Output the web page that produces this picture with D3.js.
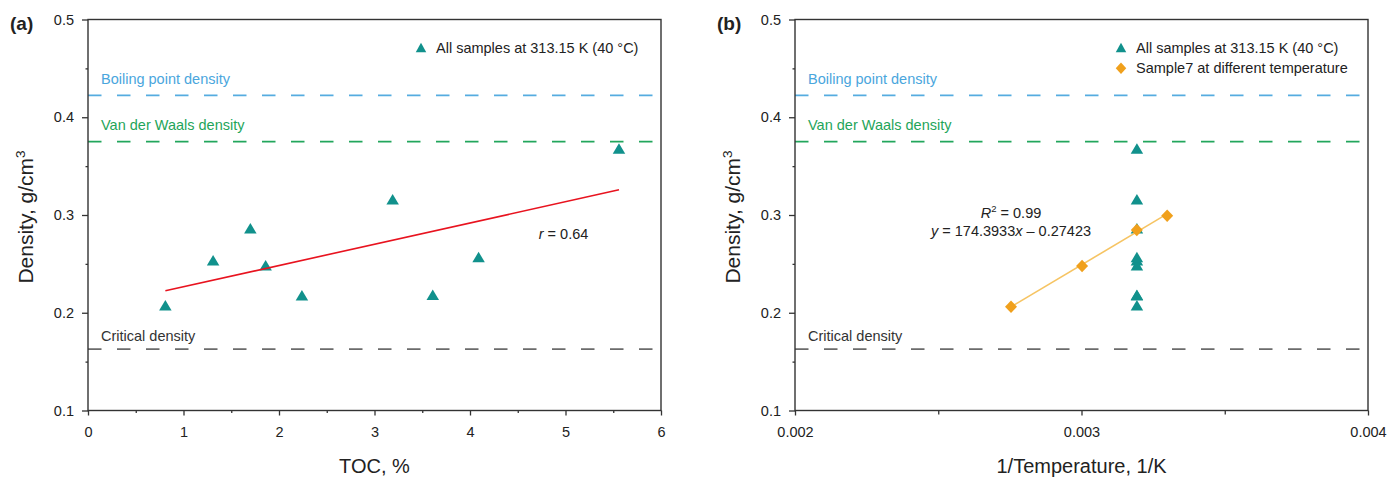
<!DOCTYPE html>
<html>
<head>
<meta charset="utf-8">
<script src="https://cdn.jsdelivr.net/npm/d3@7"></script>
<style>
body { margin: 0; background: #fff; }
svg text { font-family: "Liberation Sans", Arial, Helvetica, sans-serif; }
</style>
</head>
<body>
<svg id="chart" width="1387" height="478"></svg>
<script>
// ---- data ----
var tocPercent   = [0.81, 1.31, 1.70, 1.86, 2.24, 3.19, 3.61, 4.09, 5.56];
var densityAll   = [0.2076, 0.2537, 0.2864, 0.2485, 0.2178, 0.316, 0.2185, 0.257, 0.368];
var invTempAll   = [0.0031934, 0.0031934, 0.0031934, 0.0031934, 0.0031934, 0.0031934, 0.0031934, 0.0031934, 0.0031934]; // 313.15 K
var invTempS7    = [0.002754, 0.003002, 0.003193, 0.003299];
var densityS7    = [0.2062, 0.2478, 0.2847, 0.2993];

var refNames  = ["Boiling point density", "Van der Waals density", "Critical density"];
var refValues = [0.4224, 0.3750, 0.1627];

var fitSlopeS7 = 174.3933, fitInterceptS7 = -0.27423;
var rText = "0.64", r2Text = "0.99";

var yTicks      = [0.1, 0.2, 0.3, 0.4, 0.5];
var yMinorTicks = [0.15, 0.25, 0.35, 0.45];
var xTicksA      = [0, 1, 2, 3, 4, 5, 6];
var xMinorTicksA = [0.5, 1.5, 2.5, 3.5, 4.5, 5.5];
var xTicksB      = [0.002, 0.003, 0.004];
var xMinorTicksB = [0.0025, 0.0035];

var legendNames = ["All samples at 313.15 K (40 \u00B0C)", "Sample7 at different temperature"];

// ---- styles ----
var teal = "#11918c", orange = "#f0a01c", orangeLine = "#f6c463", red = "#e8131f";
var refColors = ["#55ace0", "#22a65c", "#6b6b6b"];
var refLabelColors = ["#4aa6dd", "#1fa55a", "#333"];
var refLabelDy = [-11.7, -11.8, -8.5];
var axisColor = "#333", textColor = "#222";

var svg = d3.select("#chart");

function triPath(w, h) {
    return "M0," + (-h / 2) + "L" + (w / 2) + "," + (h / 2) + "L" + (-w / 2) + "," + (h / 2) + "Z";
}
function diaPath(w, h) {
    return "M0," + (-h / 2) + "L" + (w / 2) + ",0L0," + (h / 2) + "L" + (-w / 2) + ",0Z";
}

function linFit(xs, ys) {
    var mx = d3.mean(xs), my = d3.mean(ys), sxy = 0, sxx = 0;
    xs.forEach(function(v, i) { sxy += (v - mx) * (ys[i] - my); sxx += (v - mx) * (v - mx); });
    var b = sxy / sxx;
    return {slope: b, intercept: my - b * mx};
}

function drawPanel(p) {
    var x = d3.scaleLinear().domain(p.xDomain).range([p.left, p.right]);
    var y = d3.scaleLinear().domain([0.1, 0.5]).range([p.bottom, p.top]);
    var g = svg.append("g");

    // reference lines
    refValues.forEach(function(v, i) {
        g.append("line")
            .attr("x1", p.left).attr("x2", p.right)
            .attr("y1", y(v)).attr("y2", y(v))
            .attr("stroke", refColors[i]).attr("stroke-width", 1.7)
            .attr("stroke-dasharray", "13.5,15.5");
        g.append("text")
            .attr("x", p.left + 13).attr("y", y(v) + refLabelDy[i])
            .attr("font-size", 14.5).attr("fill", refLabelColors[i])
            .text(refNames[i]);
    });

    // axes
    g.append("g").attr("transform", "translate(" + p.left + ",0)")
        .call(d3.axisLeft(y).tickValues(yTicks).tickSize(6).tickPadding(8).tickFormat(d3.format(".1f")));
    g.append("g").attr("transform", "translate(" + p.left + ",0)")
        .call(d3.axisLeft(y).tickValues(yMinorTicks).tickSize(2.5).tickFormat(""));
    g.append("g").attr("transform", "translate(0," + p.bottom + ")")
        .call(d3.axisBottom(x).tickValues(p.xTicks).tickSize(5).tickPadding(11.5).tickFormat(p.xFormat));
    g.append("g").attr("transform", "translate(0," + p.bottom + ")")
        .call(d3.axisBottom(x).tickValues(p.xMinor).tickSize(p.minorX).tickFormat(""));
    g.selectAll(".domain").remove();
    g.selectAll(".tick line").attr("stroke", axisColor).attr("stroke-width", 1.3);
    g.selectAll(".tick text").attr("fill", textColor).attr("font-size", 14.5)
        .attr("font-family", "Liberation Sans, Arial, sans-serif");

    // frame
    g.append("rect")
        .attr("x", p.left).attr("y", p.top)
        .attr("width", p.right - p.left).attr("height", p.bottom - p.top)
        .attr("fill", "none").attr("stroke", axisColor).attr("stroke-width", 1.4);

    // titles
    g.append("text")
        .attr("x", (p.left + p.right) / 2).attr("y", 473)
        .attr("text-anchor", "middle").attr("font-size", 20).attr("fill", textColor)
        .text(p.xTitle);
    var yt = g.append("text")
        .attr("transform", "translate(" + (p.left - 55) + ",217) rotate(-90)")
        .attr("text-anchor", "middle").attr("font-size", 21).attr("fill", textColor);
    yt.append("tspan").text("Density, g/cm");
    yt.append("tspan").attr("font-size", 13.5).attr("dy", -8.5).text("3");

    g.append("text")
        .attr("x", p.left - 78).attr("y", 30)
        .attr("font-size", 19).attr("font-weight", "bold").attr("fill", textColor)
        .text(p.tag);

    // legend
    g.append("path").attr("d", triPath(10.5, 9.5))
        .attr("transform", "translate(" + (p.right - p.legendDx) + ",47.5)").attr("fill", teal);
    g.append("text").attr("x", p.right - p.legendDx + 15).attr("y", 52.5)
        .attr("font-size", 14.5).attr("fill", textColor).text(legendNames[0]);

    return {g: g, x: x, y: y};
}

// ---- panel (a) ----
var pa = drawPanel({
    left: 88, right: 661, top: 19.5, bottom: 410.5,
    xDomain: [0, 6], xTicks: xTicksA, xMinor: xMinorTicksA, minorX: 2.5,
    xFormat: d3.format("d"), xTitle: "TOC, %", tag: "(a)", legendDx: 240
});

pa.g.selectAll(".tri")
    .data(tocPercent)
    .enter().append("path")
    .attr("class", "tri")
    .attr("d", triPath(12.5, 10.5))
    .attr("transform", function(d, i) { return "translate(" + pa.x(d) + "," + pa.y(densityAll[i]) + ")"; })
    .attr("fill", teal);

var fitA = linFit(tocPercent, densityAll);
var xr = d3.extent(tocPercent);
pa.g.append("line")
    .attr("x1", pa.x(xr[0])).attr("y1", pa.y(fitA.intercept + fitA.slope * xr[0]))
    .attr("x2", pa.x(xr[1])).attr("y2", pa.y(fitA.intercept + fitA.slope * xr[1]))
    .attr("stroke", red).attr("stroke-width", 1.6);

var rt = pa.g.append("text")
    .attr("x", pa.x(4.72)).attr("y", pa.y(0.2754))
    .attr("font-size", 14.5).attr("fill", textColor);
rt.append("tspan").attr("font-style", "italic").text("r");
rt.append("tspan").text(" = " + rText);

// ---- panel (b) ----
var pb = drawPanel({
    left: 795, right: 1368, top: 19.5, bottom: 410.5,
    xDomain: [0.002, 0.004], xTicks: xTicksB, xMinor: xMinorTicksB, minorX: 4,
    xFormat: d3.format(".3f"), xTitle: "1/Temperature, 1/K", tag: "(b)", legendDx: 247
});

pb.g.append("path").attr("d", diaPath(10.5, 11.5))
    .attr("transform", "translate(" + (1368 - 247) + ",68.3)").attr("fill", orange);
pb.g.append("text").attr("x", 1368 - 247 + 15).attr("y", 73.3)
    .attr("font-size", 14.5).attr("fill", textColor).text(legendNames[1]);

pb.g.selectAll(".tri")
    .data(invTempAll)
    .enter().append("path")
    .attr("class", "tri")
    .attr("d", triPath(12.5, 10.5))
    .attr("transform", function(d, i) { return "translate(" + pb.x(d) + "," + pb.y(densityAll[i]) + ")"; })
    .attr("fill", teal);

var xs7 = d3.extent(invTempS7);
pb.g.append("line")
    .attr("x1", pb.x(xs7[0])).attr("y1", pb.y(fitSlopeS7 * xs7[0] + fitInterceptS7))
    .attr("x2", pb.x(xs7[1])).attr("y2", pb.y(fitSlopeS7 * xs7[1] + fitInterceptS7))
    .attr("stroke", orangeLine).attr("stroke-width", 1.6);

pb.g.selectAll(".dia")
    .data(invTempS7)
    .enter().append("path")
    .attr("class", "dia")
    .attr("d", diaPath(12, 12.5))
    .attr("transform", function(d, i) { return "translate(" + pb.x(d) + "," + pb.y(densityS7[i]) + ")"; })
    .attr("fill", orange);

var r2 = pb.g.append("text")
    .attr("x", pb.x(0.002754)).attr("y", pb.y(0.2969))
    .attr("text-anchor", "middle").attr("font-size", 14.5).attr("fill", textColor);
r2.append("tspan").attr("font-style", "italic").text("R");
r2.append("tspan").attr("font-size", 9.5).attr("dy", -6).text("2");
r2.append("tspan").attr("dy", 6).text(" = " + r2Text);

var eq = pb.g.append("text")
    .attr("x", pb.x(0.002754)).attr("y", pb.y(0.2788))
    .attr("text-anchor", "middle").attr("font-size", 14.5).attr("fill", textColor);
eq.append("tspan").attr("font-style", "italic").text("y");
eq.append("tspan").text(" = " + fitSlopeS7.toFixed(4));
eq.append("tspan").attr("font-style", "italic").text("x");
eq.append("tspan").text(" \u2013 " + Math.abs(fitInterceptS7).toFixed(5));
</script>
</body>
</html>
